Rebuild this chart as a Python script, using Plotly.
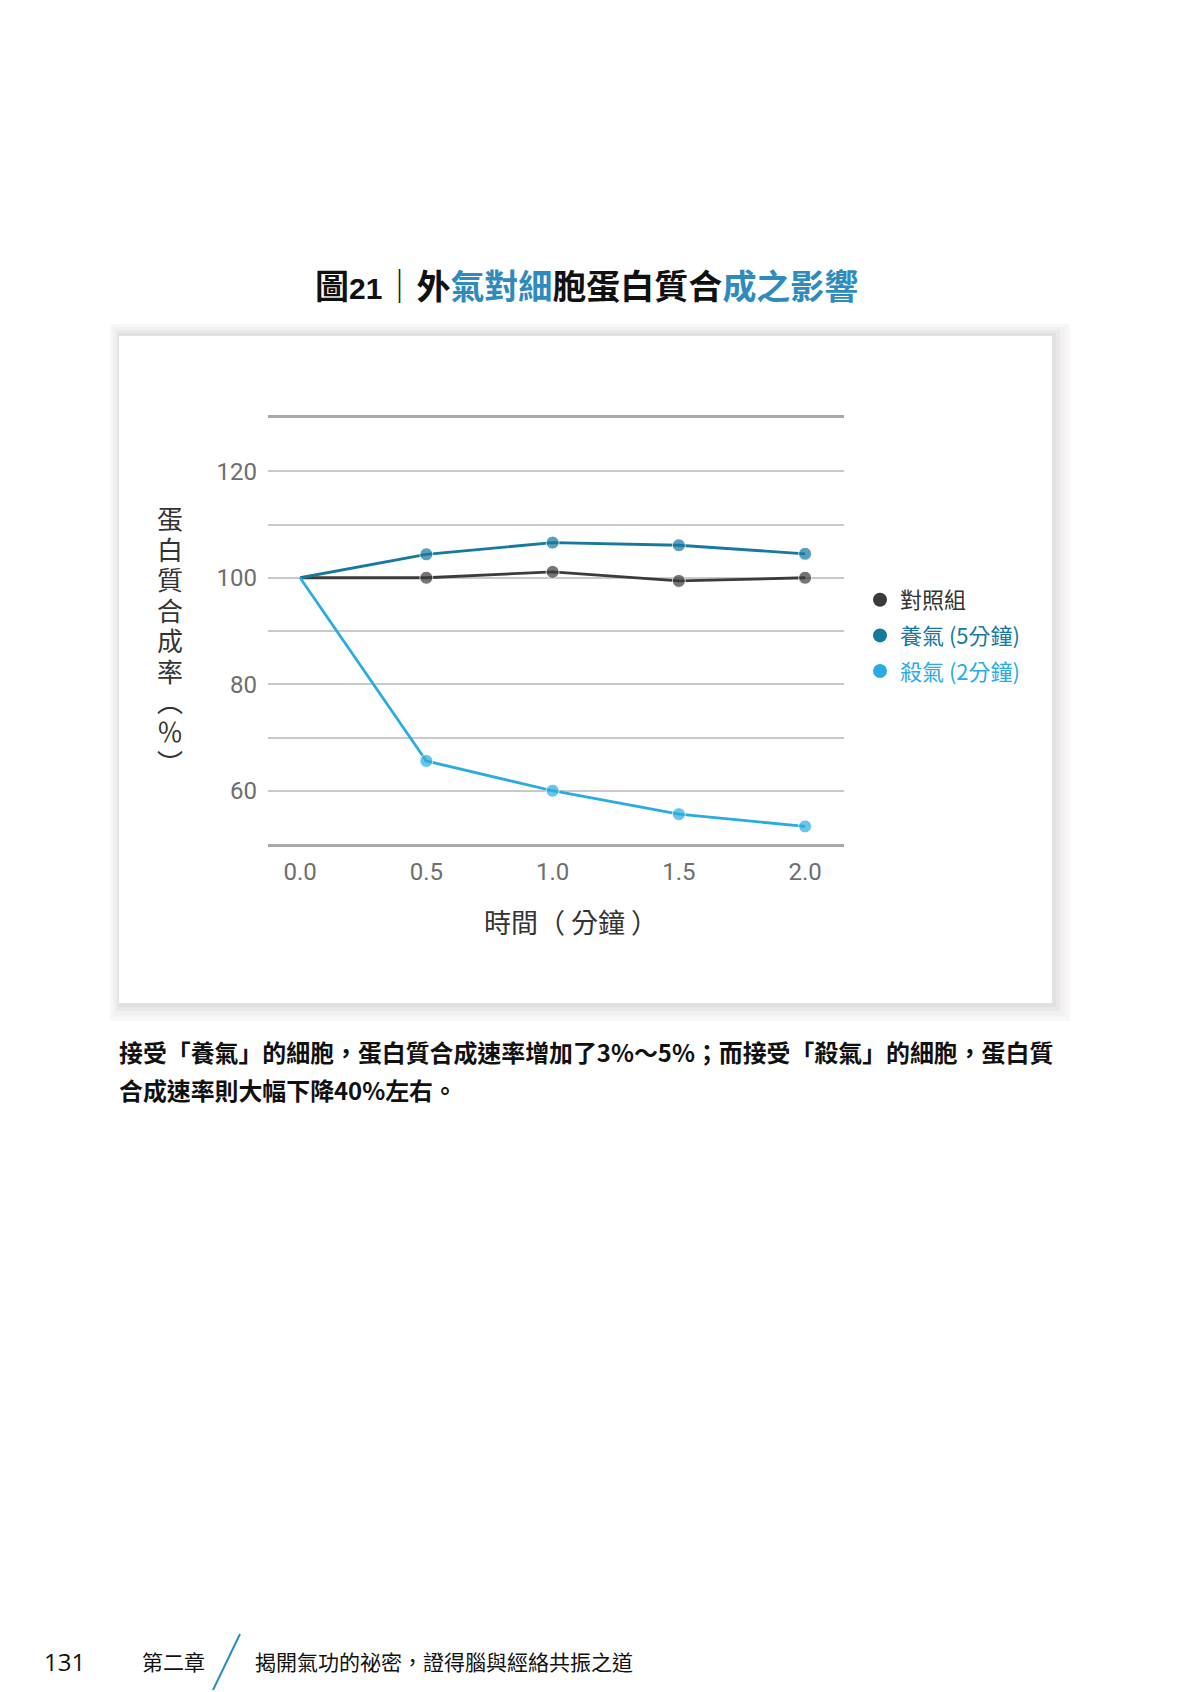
import plotly.graph_objects as go

W, H = 1192, 1692

# ---- data ----
times = [0.0, 0.5, 1.0, 1.5, 2.0]
control = [100.0, 100.0, 101.1, 99.4, 100.0]
nourish = [100.0, 104.4, 106.6, 106.1, 104.5]
kill = [100.0, 65.6, 60.0, 55.6, 53.3]
series_names = ["對照組", "養氣 (5分鐘)", "殺氣 (2分鐘)"]
series_values = [control, nourish, kill]
series_colors = ["#3b3b3b", "#17799f", "#29ace1"]
legend_text_colors = ["#333333", "#17799f", "#29ace1"]
x_ticks = [0.0, 0.5, 1.0, 1.5, 2.0]
x_ticklabels = ["0.0", "0.5", "1.0", "1.5", "2.0"]
y_ticks = [50, 60, 70, 80, 90, 100, 110, 120, 130]
y_ticklabels = ["", "60", "", "80", "", "100", "", "120", ""]

y_title_chars = ["蛋", "白", "質", "合", "成", "率", "︵", "％", "︶"]
x_title = "時間（ 分鐘 ）"
body_lines = ["接受「養氣」的細胞，蛋白質合成速率增加了3%～5%；而接受「殺氣」的細胞，蛋白質",
              "合成速率則大幅下降40%左右。"]
page_no = "131"
chapter = "第二章"
book_title = "揭開氣功的祕密，證得腦與經絡共振之道"

CJK = "Noto Sans CJK TC"
BLUE = "#2e8bbd"
INK = "#111111"


def px(x):
    return x / W


def py(y):
    return 1 - y / H


fig = go.Figure()

for name, vals, col in zip(series_names, series_values, series_colors):
    fig.add_trace(go.Scatter(
        x=times, y=vals, mode="lines+markers", showlegend=False,
        line=dict(color=col, width=2.8),
        marker=dict(color=col, size=[0] + [13] * (len(times) - 1)),
        hoverinfo="skip"))

for name, col, tcol in zip(series_names, series_colors, legend_text_colors):
    fig.add_trace(go.Scatter(
        x=[None], y=[None], mode="markers", legendgroup=name,
        name=f"<span style='color:{tcol}'>{name}</span>",
        marker=dict(color=col, size=14)))

shapes = []
# soft card shadow
card = (111, 328, 1044, 995)
for (dl, dt, dr, db, colr) in [(9, 12, 18, 18, "#f8f7f7"),
                               (6, 9, 13, 13, "#f2f0f0"),
                               (3, 6, 8, 8, "#ebe8e8"),
                               (1, 3, 4, 4, "#e3e0e0")]:
    shapes.append(dict(type="rect", xref="paper", yref="paper", layer="below",
                       x0=px(card[0] - dl), x1=px(card[2] + dr),
                       y0=py(card[3] + db), y1=py(card[1] - dt),
                       fillcolor=colr, line=dict(width=0)))
shapes.append(dict(type="rect", xref="paper", yref="paper", layer="below",
                   x0=px(card[0]), x1=px(card[2]), y0=py(card[3]), y1=py(card[1]),
                   fillcolor="#ffffff", line=dict(width=0)))
# footer slash
shapes.append(dict(type="line", xref="paper", yref="paper",
                   x0=px(232), y0=py(1626), x1=px(205), y1=py(1682),
                   line=dict(color=BLUE, width=2)))

annotations = []
title_html = (f"<span style='color:{INK}'><b>圖</b></span>"
              f"<span style='color:{INK};font-family:Liberation Sans;font-size:30px'><b>21</b></span>"
              f"<span style='color:{INK}'>｜</span>"
              f"<span style='color:{INK}'><b>外</b></span>"
              f"<span style='color:{BLUE}'><b>氣對細</b></span>"
              f"<span style='color:{INK}'><b>胞蛋白質合</b></span>"
              f"<span style='color:{BLUE}'><b>成之影響</b></span>")
annotations.append(dict(text=title_html, x=px(578), y=py(276), xref="paper", yref="paper",
                        xanchor="center", yanchor="middle", showarrow=False,
                        font=dict(family=CJK, size=34, color=INK)))
pitch = 30.4
for i, ch in enumerate(y_title_chars):
    annotations.append(dict(text=ch, x=px(162), y=py(510 + i * pitch), xref="paper", yref="paper",
                            xanchor="center", yanchor="middle", showarrow=False,
                            font=dict(family=CJK, size=26, color="#333333")))
annotations.append(dict(text=x_title, x=px(563), y=py(913), xref="paper", yref="paper",
                        xanchor="center", yanchor="middle", showarrow=False,
                        font=dict(family=CJK, size=27, color="#333333")))
for i, line in enumerate(body_lines):
    annotations.append(dict(text=f"<b>{line}</b>", x=px(109), y=py(1043 + i * 38), xref="paper", yref="paper",
                            xanchor="left", yanchor="middle", showarrow=False,
                            font=dict(family=CJK, size=23.9, color=INK)))
annotations.append(dict(text=page_no, x=px(34), y=py(1653), xref="paper", yref="paper",
                        xanchor="left", yanchor="middle", showarrow=False,
                        font=dict(family="Open Sans", size=24, color=INK)))
annotations.append(dict(text=chapter, x=px(132), y=py(1653), xref="paper", yref="paper",
                        xanchor="left", yanchor="middle", showarrow=False,
                        font=dict(family=CJK, size=21, color=INK)))
annotations.append(dict(text=book_title, x=px(245), y=py(1653), xref="paper", yref="paper",
                        xanchor="left", yanchor="middle", showarrow=False,
                        font=dict(family=CJK, size=21, color=INK)))

fig.update_layout(
    width=W, height=H, margin=dict(l=0, r=0, t=0, b=0),
    paper_bgcolor="#ffffff", plot_bgcolor="rgba(0,0,0,0)",
    shapes=shapes, annotations=annotations,
    xaxis=dict(domain=[px(260), px(836)], range=[-0.127, 2.154],
               tickvals=x_ticks, ticktext=x_ticklabels, showgrid=False, zeroline=False,
               showline=True, mirror=True, linecolor="#a9a9a9", linewidth=3,
               ticks="", ticklabelstandoff=4,
               tickfont=dict(family="Roboto", size=24, color="#6e6e6e")),
    yaxis=dict(domain=[py(836), py(410)], range=[50, 130],
               tickvals=y_ticks, ticktext=y_ticklabels, showgrid=True,
               gridcolor="#c9c9c9", gridwidth=1.5, zeroline=False, showline=False,
               ticks="", ticklabelstandoff=10,
               tickfont=dict(family="Roboto", size=24, color="#6e6e6e")),
    legend=dict(x=px(852), xanchor="left", y=py(571), yanchor="top",
                font=dict(family=CJK, size=22, color="#333333"),
                traceorder="grouped", tracegroupgap=4, itemwidth=30,
                bgcolor="rgba(0,0,0,0)"),
    showlegend=True,
)

fig.write_html("out.html")
